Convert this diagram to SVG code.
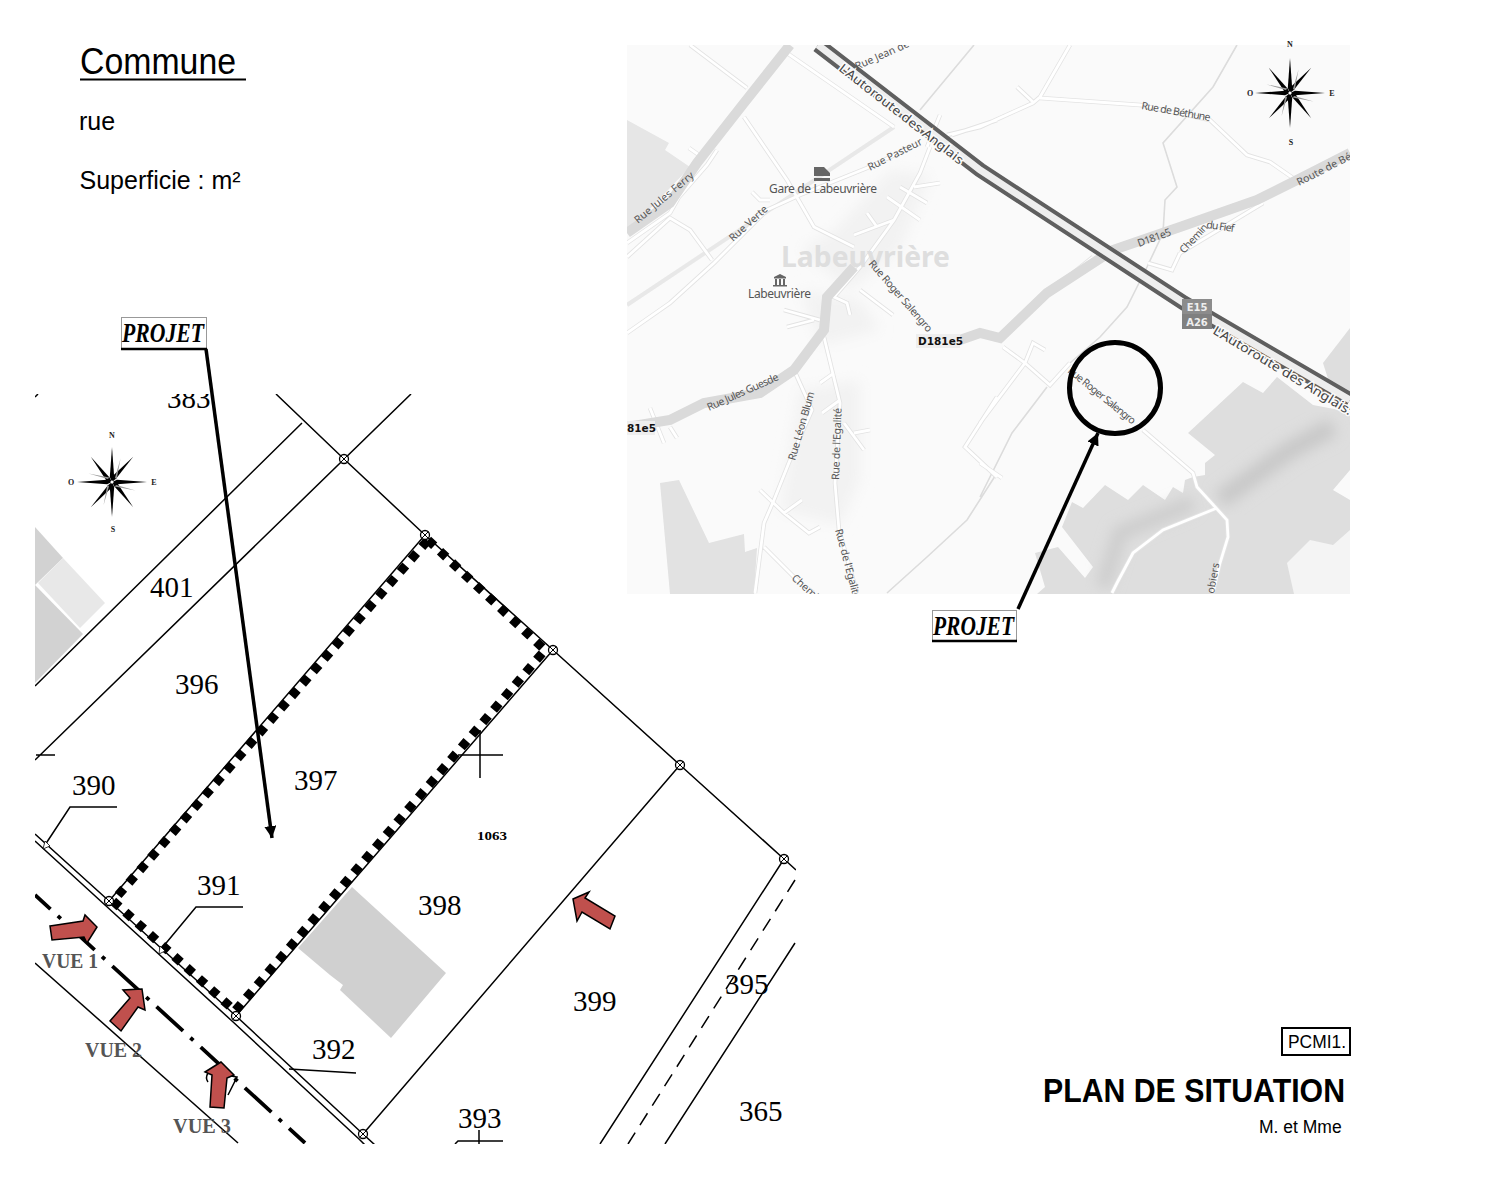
<svg xmlns="http://www.w3.org/2000/svg" xmlns:xlink="http://www.w3.org/1999/xlink" width="1494" height="1200" viewBox="0 0 1494 1200">
<style>
.s{font-family:"Liberation Sans",Arial,sans-serif;fill:#000}
.n{font-family:"Liberation Serif","Times New Roman",serif;font-size:29px;fill:#000}
.v{font-family:"Liberation Serif","Times New Roman",serif;font-size:22px;font-weight:bold;fill:#555}
.p{font-family:"Liberation Serif","Times New Roman",serif;font-size:27px;font-weight:bold;font-style:italic;fill:#000}
.m{font-family:"Noto Sans","DejaVu Sans",sans-serif;font-size:10.5px;fill:#555}
.a{font-family:"Noto Sans","DejaVu Sans",sans-serif;font-size:12.5px;fill:#444;paint-order:stroke;stroke:#fafafa;stroke-width:3}
.d{font-family:"DejaVu Sans",sans-serif;font-size:10.5px;font-weight:bold;fill:#111}
.c{font-family:"Liberation Serif",serif;font-size:8px;font-weight:bold;fill:#222;text-anchor:middle}
.l{fill:none;stroke:#000;stroke-width:1.5}
.red{fill:#c0504d;stroke:#000;stroke-width:1.5}
.box{fill:#fff;stroke:#999;stroke-width:1}
.big{fill:none;stroke:#dadada;stroke-width:10}
.casing use,.casing path{fill:none;stroke:#e3e3e3;stroke-width:4.5}
.white use,.white path{fill:none;stroke:#fff;stroke-width:2.8}
</style>
<defs>
<clipPath id="mapclip"><rect x="627" y="45" width="723" height="549"/></clipPath>
<clipPath id="planclip"><rect x="35" y="394" width="761" height="750"/></clipPath>
<filter id="soft" x="-5%" y="-5%" width="110%" height="110%"><feGaussianBlur stdDeviation="0.5"/></filter>
<filter id="blur" x="-20%" y="-20%" width="140%" height="140%"><feGaussianBlur stdDeviation="7"/></filter>
<marker id="head" markerUnits="userSpaceOnUse" markerWidth="14" markerHeight="14" refX="12" refY="6" orient="auto"><path d="M0,0L12,6L0,12z" fill="#000"/></marker>
<g id="mk"><circle r="4.5" fill="#fff" stroke="#000" stroke-width="1.3"/><path d="M-3.2,-3.2L3.2,3.2M-3.2,3.2L3.2,-3.2" stroke="#000" stroke-width="1"/></g>
<path id="sp" d="M0,-35L-2.2,-5L0,0L2.2,-5z" fill="#000"/>
<path id="dg" d="M0,-33L-3.4,-5L0,0L1,-5z" fill="#000"/>
<path id="gl" d="M0,-25L1.4,-5L3.4,-4z" fill="#999"/>
<g id="rose">
<use xlink:href="#sp"/><use xlink:href="#sp" transform="rotate(90)"/><use xlink:href="#sp" transform="rotate(180)"/><use xlink:href="#sp" transform="rotate(270)"/>
<use xlink:href="#dg" transform="rotate(40)"/><use xlink:href="#dg" transform="rotate(140)"/><use xlink:href="#dg" transform="rotate(220)"/><use xlink:href="#dg" transform="rotate(320)"/>
<use xlink:href="#gl" transform="rotate(20)"/><use xlink:href="#gl" transform="rotate(110)"/><use xlink:href="#gl" transform="rotate(200)"/><use xlink:href="#gl" transform="rotate(290)"/>
<circle r="1.5" fill="#fff"/>
</g>
<path id="roads" d="M690,45L747,88M744,117L787,180L814,227L854,247M787,53L894,127M920,143L867,168L800,195L767,210L714,263L670,303L627,333M930,147L920,173L894,220L860,267L834,297L847,303L850,315M887,197L920,220M900,187L927,203M914,187L940,183M867,213L877,227M854,235L894,220M627,243L670,213L679,197L707,165L717,150M627,257L670,218L690,230L712,260M689,148L699,155M752,192L760,200L770,200M860,290L893,315M787,327L814,320M784,310L820,320M824,337L840,403L835,483L839,530L857,593M794,370L812,410L790,460L774,500L764,523L755,593M820,383L834,373M822,413L840,400M844,423L864,450M854,433L870,430M760,490L784,513L809,533L820,527M784,513L802,500M764,547L800,583L814,593M650,408L664,443M670,427L677,438M997,397L965,447L997,477M980,423L1025,363L1033,343L1045,350M1003,347L1025,363L1050,385L1070,363M980,463L1002,478M1070,45L1040,97L1033,103L980,127L947,135M1017,87L1033,102M1040,98L1140,105L1210,120L1247,155L1270,162L1293,178M1180,253L1172,270L1148,263M1180,253L1230,223L1263,203M1023,313L1093,257M997,120L952,135M940,115L927,147M1143,430L1193,473L1197,487L1227,520L1228,537L1220,563L1213,593M1217,508L1163,530L1133,553L1117,583L1112,593"/>
</defs>
<rect width="1494" height="1200" fill="#fff"/>

<g id="header">
<text class="s" x="80" y="74" font-size="36" textLength="156" lengthAdjust="spacingAndGlyphs">Commune</text>
<line x1="80" y1="79.500" x2="246" y2="79.500" stroke="#000" stroke-width="2"/>
<text class="s" x="79" y="130" font-size="25">rue</text>
<text class="s" x="79.500" y="188.500" font-size="25">Superficie : m²</text>
</g>

<g id="map" clip-path="url(#mapclip)">
<rect x="627" y="45" width="723" height="549" fill="#fafafa"/>
<g filter="url(#soft)">
<polygon points="627,120 669,143 665,150 690,167 627,233" fill="#e6e6e6"/>
<polygon points="660,483 679,480 709,543 744,534 745,552 757,548 754,594 670,594" fill="#e2e2e2"/>
<polygon points="1277,377 1313,405 1350,412 1350,470 1333,490 1350,500 1350,594 1037,594 1045,587 1035,553 1058,547 1085,578 1093,567 1062,527 1072,502 1083,508 1105,485 1128,500 1143,485 1165,500 1173,487 1183,493 1185,480 1193,477 1205,475 1205,463 1215,455 1188,433 1243,382 1263,393" fill="#dedede"/>
<polygon points="1323,363 1350,328 1350,395 1330,385" fill="#dedede"/>
<polygon points="1287,563 1310,540 1333,545 1350,530 1350,594 1294,594" fill="#f4f4f4"/>
</g>
<path d="M1333,427L1290,450L1220,500" fill="none" stroke="#c8c8c8" stroke-width="18" filter="url(#blur)"/>
<path d="M1193,503L1120,533L1103,587" fill="none" stroke="#cccccc" stroke-width="14" filter="url(#blur)"/>
<g filter="url(#blur)" fill="#f2f2f2">
<polygon points="835,230 890,170 930,175 900,250 850,290 800,250"/>
<polygon points="800,290 860,300 880,330 820,345"/>
<polygon points="800,390 860,380 860,480 840,525 780,510"/>
</g>
<g filter="url(#soft)">
<path d="M894,127L627,305" fill="none" stroke="#e8e8e8" stroke-width="4"/>
<path d="M1237,45L1213,87L1163,143L1177,187L1165,200L1163,233L1147,267L1127,307L1100,337L1070,363M997,473L967,520L927,557L887,593M980,497L1012,433L1047,387M974,45L920,110" fill="none" stroke="#dcdcdc" stroke-width="1.6"/>
<g class="casing"><use xlink:href="#roads"/></g>
<g class="white"><use xlink:href="#roads"/></g>
<path class="big" d="M627,427L670,420L704,403L760,393L794,370L824,330L827,297L854,267"/>
<path class="big" d="M960,340L980,333L1000,338L1047,293L1113,250L1180,227L1257,200L1297,180L1350,153"/>
<path class="big" d="M790,45L744,103L697,163L670,203L627,233"/>
<path d="M818,45L980,170L1184,303L1350,400" fill="none" stroke="#5e5e5e" stroke-width="15"/>
<path d="M818,45L980,170L1184,303L1350,400" fill="none" stroke="#eeeeee" stroke-width="7"/>
</g>
<text x="781" y="267" font-family="Noto Sans,DejaVu Sans,sans-serif" font-size="29" font-weight="bold" fill="#dedede" textLength="169" lengthAdjust="spacingAndGlyphs">Labeuvrière</text>
<rect x="916" y="334" width="44" height="14" fill="#eee"/>
<rect x="627" y="421" width="28" height="14" fill="#eee"/>
<g id="map-icons" fill="#666">
<path d="M814,167h10l6,6v3h-16zM814,178h16v3h-16z"/>
<path d="M774,277h12v1.500h-12zM775,279h2v6h-2zM779,279h2v6h-2zM783,279h2v6h-2zM773,285h14v1.500h-14zM780,274l6,3h-12z"/>
</g>
<text class="a" transform="translate(838,70) rotate(38)" textLength="154" lengthAdjust="spacingAndGlyphs">L'Autoroute des Anglais</text>
<text class="a" transform="translate(1212,333) rotate(31)" textLength="160" lengthAdjust="spacingAndGlyphs">L'Autoroute des Anglais:</text>
<text class="m" transform="translate(857,70) rotate(-24)">Rue Jean de S</text>
<text class="m" transform="translate(870,171) rotate(-27)">Rue Pasteur</text>
<text class="m" x="769" y="193" style="font-size:12px" textLength="108">Gare de Labeuvrière</text>
<text class="m" x="748" y="298" style="font-size:12px" textLength="63">Labeuvrière</text>
<text class="m" transform="translate(733,242) rotate(-42)">Rue Verte</text>
<text class="m" transform="translate(638,224) rotate(-40)" textLength="74">Rue Jules Ferry</text>
<text class="m" transform="translate(868,264) rotate(49)" textLength="91">Rue Roger Salengro</text>
<text class="m" transform="translate(709,411) rotate(-24)" textLength="77">Rue Jules Guesde</text>
<text class="m" transform="translate(795,461) rotate(-74)" textLength="71">Rue Léon Blum</text>
<text class="m" transform="translate(839,480) rotate(-88)" textLength="72">Rue de l'Egalité</text>
<text class="m" transform="translate(835,530) rotate(75)" textLength="72">Rue de l'Egalité</text>
<text class="m" transform="translate(791,579) rotate(42)">Chemin</text>
<text class="m" x="1141" y="109" transform="rotate(10 1141 109)" textLength="70">Rue de Béthune</text>
<text class="m" transform="translate(1299,186) rotate(-27)">Route de Bét</text>
<text class="m" transform="translate(1139,247) rotate(-20)" textLength="35">D181e5</text>
<text class="m" transform="translate(1184,254) rotate(-47)" textLength="36">Chemin</text>
<text class="m" transform="translate(1206,228) rotate(8)" textLength="28">du Fief</text>
<text class="m" transform="translate(1067,372) rotate(39)" textLength="84">Rue Roger Salengro</text>
<text class="m" transform="translate(1214,594) rotate(-80)">obiers</text>
<text class="d" x="918" y="345">D181e5</text>
<text class="d" x="627" y="432">81e5</text>
<rect x="1182" y="299" width="30" height="15" fill="#8c8c8c"/>
<rect x="1182" y="314" width="30" height="15" fill="#808080"/>
<text x="1197" y="311" text-anchor="middle" font-family="DejaVu Sans,sans-serif" font-size="10" font-weight="bold" fill="#eee">E15</text>
<text x="1197" y="326" text-anchor="middle" font-family="DejaVu Sans,sans-serif" font-size="10" font-weight="bold" fill="#eee">A26</text>
</g>

<g id="compass-map">
<use xlink:href="#rose" x="1290" y="93"/>
<text class="c" x="1290" y="47">N</text><text class="c" x="1291" y="145">S</text><text class="c" x="1250" y="96">O</text><text class="c" x="1332" y="96">E</text>
</g>

<g id="target">
<circle cx="1115" cy="388" r="45.500" fill="none" stroke="#000" stroke-width="5"/>
</g>

<g id="plan" clip-path="url(#planclip)">
<polygon points="35,527 63,558 35,585" fill="#d2d2d2"/>
<polygon points="63,558 105,603 80,628 38,583" fill="#e8e8e8"/>
<polygon points="35,585 83,634 35,683" fill="#d2d2d2"/>
<polygon points="298,948 352,887 446,973 391,1038 340,990 343,985 330,975" fill="#d0d0d0"/>
<path class="l" d="M276,394L344,459L425,535L553,650L680,765L784,859L796,870"/>
<path class="l" d="M302,423L35,686M411,394L35,760M36,755H55M35,397L38,394"/>
<path class="l" d="M35,834L109,901L236,1016L363,1134L375,1145M35,841L105,905L232,1021L359,1139L365,1145"/>
<path class="l" d="M35,963L238,1143"/>
<path d="M35,895L305,1143" fill="none" stroke="#000" stroke-width="3.800" stroke-dasharray="36 10 4 10" stroke-dashoffset="15"/>
<path class="l" d="M425,535L109,901M553,650L236,1016M680,765L363,1134M784,859L600,1144M795,943L665,1144"/>
<path class="l" d="M795,880L628,1144" stroke-dasharray="14 9"/>
<path class="l" d="M458,755H503M480,730V778"/>
<path class="l" d="M117,807H70L45,845M243,907H196L162,948M356,1073L289,1069M455,1144L458,1141H503M479,1130V1144"/>
<path d="M428,540L545,650L235,1011L113,901L428,540" fill="none" stroke="#000" stroke-width="9" stroke-dasharray="8.500 8"/>
<path d="M45,841l5,5l-7,3z" fill="#fff" stroke="#000" stroke-width=".8"/>
<path d="M160,946l5,5l-6,3z" fill="#fff" stroke="#000" stroke-width=".8"/>
<use xlink:href="#mk" x="344" y="459"/><use xlink:href="#mk" x="425" y="535"/><use xlink:href="#mk" x="553" y="650"/><use xlink:href="#mk" x="680" y="765"/><use xlink:href="#mk" x="784" y="859"/><use xlink:href="#mk" x="109" y="901"/><use xlink:href="#mk" x="236" y="1016"/><use xlink:href="#mk" x="363" y="1134"/>
<text class="n" x="167" y="408">383</text>
<text class="n" x="150" y="597">401</text>
<text class="n" x="175" y="694">396</text>
<text class="n" x="294" y="790">397</text>
<text class="n" x="72" y="795">390</text>
<text class="n" x="197" y="895">391</text>
<text class="n" x="418" y="915">398</text>
<text class="n" x="573" y="1011">399</text>
<text class="n" x="725" y="994">395</text>
<text class="n" x="312" y="1059">392</text>
<text class="n" x="458" y="1128">393</text>
<text class="n" x="739" y="1121">365</text>
<text x="477" y="840" font-family="Liberation Serif,serif" font-size="13" font-weight="bold" fill="#000" textLength="30" lengthAdjust="spacingAndGlyphs">1063</text>
<path d="M208,1073q-3,5 0,9M231,1076l6,1l-9,18" fill="none" stroke="#000" stroke-width="1.500"/>
<polygon class="red" points="50,926 83,921 85,915 97,927 87,943 84,937 52,940"/>
<polygon class="red" points="142,989 123,990 130,998 110,1021 121,1031 138,1007 145,1010"/>
<polygon class="red" points="221,1062 205,1072 212,1075 210,1107 224,1108 227,1078 234,1075"/>
<polygon class="red" points="573,899 589,892 585,898 615,916 610,929 582,912 577,921"/>
<text class="v" x="42" y="968" textLength="56" lengthAdjust="spacingAndGlyphs">VUE 1</text>
<text class="v" x="85" y="1057" textLength="57" lengthAdjust="spacingAndGlyphs">VUE 2</text>
<text class="v" x="173" y="1133" textLength="58" lengthAdjust="spacingAndGlyphs">VUE 3</text>
</g>

<g id="compass-plan">
<use xlink:href="#rose" x="112" y="482"/>
<text class="c" x="112" y="438">N</text><text class="c" x="113" y="532">S</text><text class="c" x="71" y="485">O</text><text class="c" x="154" y="485">E</text>
</g>

<g id="projet-plan">
<rect class="box" x="121.500" y="317.500" width="85" height="31"/>
<line x1="121" y1="349" x2="207" y2="349" stroke="#000" stroke-width="2.500"/>
<text class="p" x="122" y="342" textLength="82" lengthAdjust="spacingAndGlyphs">PROJET</text>
</g>
<g id="projet-map">
<rect class="box" x="932.500" y="610.500" width="84" height="30"/>
<line x1="932" y1="641" x2="1017" y2="641" stroke="#000" stroke-width="2.500"/>
<text class="p" x="933" y="635" textLength="81" lengthAdjust="spacingAndGlyphs">PROJET</text>
</g>

<g id="connectors">
<line x1="206" y1="349" x2="272" y2="838" stroke="#000" stroke-width="3.500" marker-end="url(#head)"/>
<line x1="1018" y1="609" x2="1098" y2="433" stroke="#000" stroke-width="3.500" marker-end="url(#head)"/>
</g>

<g id="title">
<rect x="1282" y="1028" width="68" height="27" fill="#fff" stroke="#000" stroke-width="2"/>
<text class="s" x="1288" y="1048" font-size="18" textLength="58" lengthAdjust="spacingAndGlyphs">PCMI1.</text>
<text class="s" x="1043" y="1102" font-size="33" font-weight="bold" textLength="302" lengthAdjust="spacingAndGlyphs">PLAN DE SITUATION</text>
<text class="s" x="1259" y="1133" font-size="17.500" fill="#222">M. et Mme</text>
</g>
</svg>
